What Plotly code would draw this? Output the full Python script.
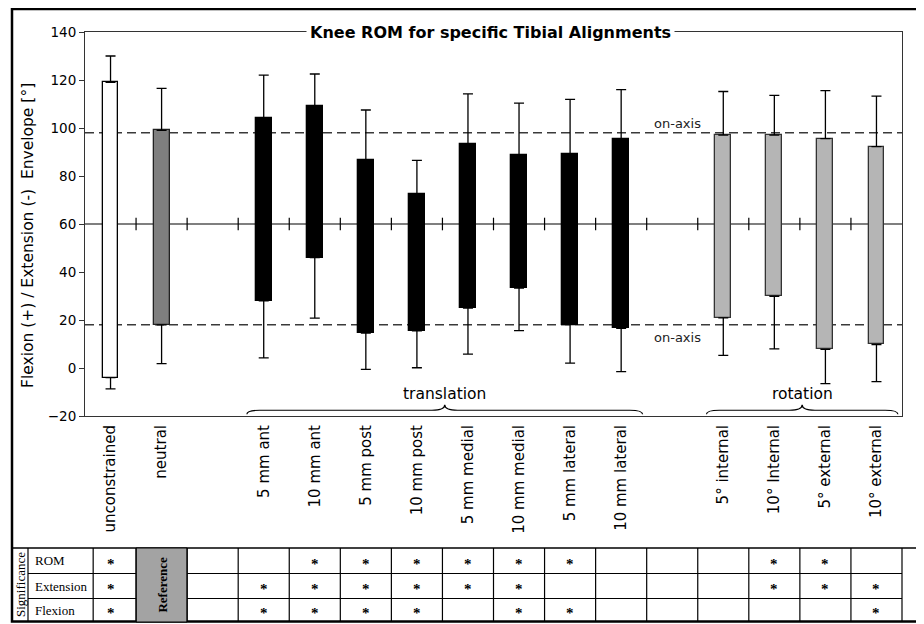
import plotly.graph_objects as go

# ---------------- data ----------------
slots = ["unconstrained", "neutral", "", "5 mm ant", "10 mm ant", "5 mm post", "10 mm post",
         "5 mm medial", "10 mm medial", "5 mm lateral", "10 mm lateral", "",
         "5° internal", "10° Internal", "5° external", "10° external"]

bar_top = [119, 99, 104, 109, 86.5, 72.5, 93.5, 88.7, 89.3, 95.6, 97, 97, 95.6, 92.2]
bar_bottom = [-4, 18, 28, 46, 14.5, 15.5, 25, 33.3, 18.1, 16.5, 20.9, 29.9, 7.8, 9.8]
err_top = [130, 116.5, 122, 122.5, 107.5, 86.5, 114.2, 110.4, 111.9, 116, 115.2, 113.6, 115.6, 113.3]
err_bottom = [-8.7, 1.8, 4.2, 20.8, -0.6, 0.1, 5.8, 15.6, 2.0, -1.5, 5.3, 8.0, -6.5, -5.7]

onaxis_levels = [98, 18]

groups = [("translation", "5 mm ant", "10 mm lateral"), ("rotation", "5° internal", "10° external")]

table_rows = ["ROM", "Extension", "Flexion"]
# 1 = significant (*), 0 = not, None = reference
sig_rom = [1, None, 0, 1, 1, 1, 1, 1, 1, 0, 0, 1, 1, 0]
sig_ext = [1, None, 1, 1, 1, 1, 1, 1, 0, 0, 0, 1, 1, 1]
sig_flex = [1, None, 1, 1, 1, 1, 0, 1, 1, 0, 0, 0, 0, 1]

# ---------------- styles ----------------
fill_colors = ["white", "#7f7f7f"] + ["black"] * 8 + ["#b5b5b5"] * 4
line_colors = ["black", "#222222"] + ["black"] * 8 + ["#333333"] * 4

OFF = 8  # page body margin
W, H = 924 - OFF, 624 - OFF
ML, MT = 85 - OFF, 32 - OFF
MR = W - (902 - OFF)
MB = H - (416 - OFF)
PW = W - ML - MR
PH = H - MT - MB


def px(p):  # window pixel x -> paper
    return (p - OFF - ML) / PW


def py(p):  # window pixel y -> paper
    return (H - MB - (p - OFF)) / PH


nslots = len(slots)
xs = [i for i, s in enumerate(slots) if s]
names = [s for s in slots if s]
pos = dict(zip(names, xs))


def dx(x):  # data x -> paper x
    return (x + 0.5) / nslots


fig = go.Figure()

fig.add_trace(go.Bar(
    x=xs, y=[t - b for t, b in zip(bar_top, bar_bottom)], base=bar_bottom,
    width=0.31,
    marker=dict(color=fill_colors, line=dict(color=line_colors, width=1.3)),
    showlegend=False, hoverinfo="skip"))

# error bars (upper from top, lower from bottom)
fig.add_trace(go.Scatter(
    x=xs, y=bar_top, mode="markers", marker=dict(size=1, color="rgba(0,0,0,0)"),
    error_y=dict(type="data", symmetric=False,
                 array=[e - t for e, t in zip(err_top, bar_top)],
                 arrayminus=[0] * len(xs), width=5, thickness=1.3, color="black"),
    showlegend=False, hoverinfo="skip"))
fig.add_trace(go.Scatter(
    x=xs, y=bar_bottom, mode="markers", marker=dict(size=1, color="rgba(0,0,0,0)"),
    error_y=dict(type="data", symmetric=False,
                 array=[0] * len(xs),
                 arrayminus=[b - e for b, e in zip(bar_bottom, err_bottom)],
                 width=5, thickness=1.3, color="black"),
    showlegend=False, hoverinfo="skip"))

# horizontal axis at 60 with boundary ticks
bounds = [i + 0.5 for i in range(nslots - 1)]
fig.add_trace(go.Scatter(
    x=bounds, y=[60] * len(bounds), mode="markers",
    marker=dict(symbol="line-ns", size=9, line=dict(width=1.2, color="black")),
    showlegend=False, hoverinfo="skip"))

shapes = []
shapes.append(dict(type="line", xref="paper", yref="y", x0=0, x1=1, y0=60, y1=60,
                   line=dict(color="black", width=1.2), layer="below"))
for lv in onaxis_levels:
    shapes.append(dict(type="line", xref="paper", yref="y", x0=0, x1=1, y0=lv, y1=lv,
                       line=dict(color="#3a3a3a", width=1.5, dash="9px,5px"), layer="below"))

annotations = []


def ann(**kw):
    kw.setdefault("showarrow", False)
    kw.setdefault("xanchor", "center")
    kw.setdefault("yanchor", "middle")
    annotations.append(kw)


# on-axis labels
gap2 = [i for i, s in enumerate(slots) if not s][-1]
ann(x=gap2 + 0.1, y=onaxis_levels[0], xref="x", yref="y", text="on-axis",
    yanchor="bottom", yshift=0, font=dict(family="DejaVu Sans", size=13, color="#222"))
ann(x=gap2 + 0.1, y=onaxis_levels[1], xref="x", yref="y", text="on-axis",
    yanchor="top", yshift=-3, font=dict(family="DejaVu Sans", size=13, color="#222"))

# braces
ye, yf, yp = -19.3, -17.6, -15.3
for label, a, b in groups:
    x0 = pos[a] - 0.33
    x1 = pos[b] + 0.42
    mid = (x0 + x1) / 2
    d = 0.25
    path = (f"M {x0},{ye} Q {x0},{yf} {x0 + d},{yf} L {mid - d},{yf} "
            f"Q {mid},{yf} {mid},{yp} Q {mid},{yf} {mid + d},{yf} "
            f"L {x1 - d},{yf} Q {x1},{yf} {x1},{ye}")
    shapes.append(dict(type="path", xref="x", yref="y", path=path,
                       line=dict(color="black", width=1.2)))
    ann(x=mid, y=-11, xref="x", yref="y", text=label,
        font=dict(family="DejaVu Sans", size=15.5, color="black"))

# title
ann(x=px(490), y=py(33), xref="paper", yref="paper",
    text="<b>Knee ROM for specific Tibial Alignments</b>",
    bgcolor="white", borderpad=3,
    font=dict(family="DejaVu Sans", size=16, color="black"))
# y title
ann(x=px(28), y=py(236), xref="paper", yref="paper",
    text="Flexion (+) / Extension (-)  Envelope [°]", textangle=-90,
    font=dict(family="DejaVu Sans", size=15.5, color="black"))

# outer frame
shapes.append(dict(type="rect", xref="paper", yref="paper", x0=px(12), x1=px(919),
                   y0=py(621.5), y1=py(9), line=dict(color="black", width=2.5)))
shapes.append(dict(type="line", xref="paper", yref="paper", x0=px(12), x1=px(919),
                   y0=py(548), y1=py(548), line=dict(color="black", width=1.5)))

# significance table
t_top, t_bot = 548, 622
row_edges = [548, 573.5, 598.5, 622]
first_left = -0.34
ref_idx = pos["neutral"]
shapes.append(dict(type="rect", xref="paper", yref="paper", x0=dx(ref_idx - 0.5), x1=dx(ref_idx + 0.5),
                   y0=py(t_bot), y1=py(t_top), fillcolor="#a3a3a3",
                   line=dict(color="black", width=1)))
vlines = [px(28), dx(first_left)] + [dx(i + 0.5) for i in range(nslots)]
for vx in vlines:
    shapes.append(dict(type="line", xref="paper", yref="paper", x0=vx, x1=vx,
                       y0=py(t_bot), y1=py(t_top), line=dict(color="black", width=1.2)))
for ry in row_edges[1:-1]:
    shapes.append(dict(type="line", xref="paper", yref="paper", x0=px(28), x1=dx(ref_idx - 0.5),
                       y0=py(ry), y1=py(ry), line=dict(color="black", width=1.2)))
    shapes.append(dict(type="line", xref="paper", yref="paper", x0=dx(ref_idx + 0.5), x1=dx(nslots - 0.5),
                       y0=py(ry), y1=py(ry), line=dict(color="black", width=1.2)))

serif = "Liberation Serif"
ann(x=px(20), y=py((t_top + t_bot) / 2), xref="paper", yref="paper",
    text="Significance", textangle=-90,
    font=dict(family=serif, size=13, color="black"))
ann(x=dx(ref_idx), y=py((t_top + t_bot) / 2), xref="paper", yref="paper",
    text="<b>Reference</b>", textangle=-90,
    font=dict(family=serif, size=13, color="black"))
for r, (rname, vals) in enumerate(zip(table_rows, [sig_rom, sig_ext, sig_flex])):
    yc = py((row_edges[r] + row_edges[r + 1]) / 2)
    ann(x=px(33), y=yc, xref="paper", yref="paper", text=rname, xanchor="left",
        font=dict(family=serif, size=13, color="black"))
    for xi, v in zip(xs, vals):
        if v == 1:
            ann(x=dx(xi), y=yc, xref="paper", yref="paper", text="<b>*</b>", yshift=-3,
                font=dict(family=serif, size=15, color="black"))

fig.update_layout(
    width=W, height=H, margin=dict(l=ML, r=MR, t=MT, b=MB),
    paper_bgcolor="white", plot_bgcolor="white", showlegend=False, bargap=0,
    shapes=shapes, annotations=annotations,
    xaxis=dict(range=[-0.5, nslots - 0.5], tickvals=xs, ticktext=names, tickangle=-90,
               ticks="outside", ticklen=2, tickcolor="rgba(0,0,0,0)",
               showline=True, mirror=True, linecolor="#333", linewidth=1,
               showgrid=False, zeroline=False,
               tickfont=dict(family="DejaVu Sans", size=15, color="black")),
    yaxis=dict(range=[-20, 140], tickvals=list(range(-20, 141, 20)),
               ticks="outside", ticklen=5, tickcolor="#333",
               showline=True, mirror=True, linecolor="#333", linewidth=1,
               showgrid=False, zeroline=False,
               tickfont=dict(family="DejaVu Sans", size=13.5, color="black")),
)

fig.write_html("out.html")
